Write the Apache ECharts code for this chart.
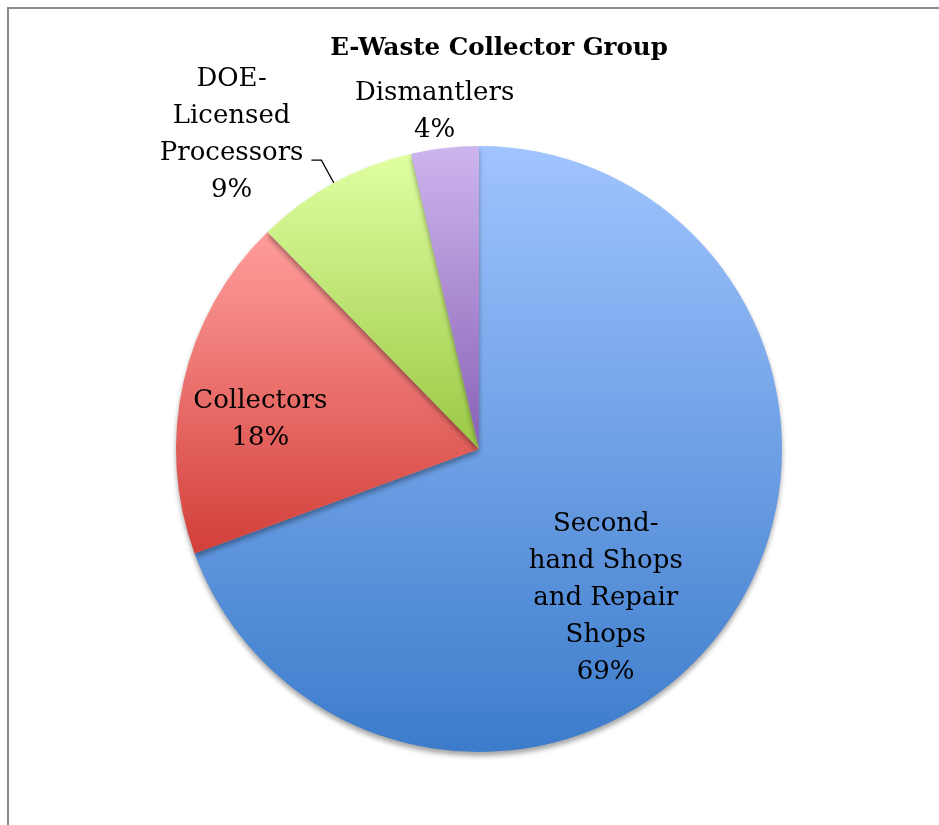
<!DOCTYPE html>
<html>
<head>
<meta charset="utf-8">
<script src="https://cdn.jsdelivr.net/npm/echarts@6/dist/echarts.min.js"></script>
<style>
html,body{margin:0;padding:0;background:#fff;}
#chart{width:939px;height:825px;}
</style>
</head>
<body>
<div id="chart"></div>
<script>
const chartTitle = 'E-Waste Collector Group';
const categories = ['Second-hand Shops and Repair Shops', 'Collectors', 'DOE-Licensed Processors', 'Dismantlers'];
const labelTexts = ['Second-\nhand Shops\nand Repair\nShops', 'Collectors', 'DOE-\nLicensed\nProcessors', 'Dismantlers'];
const values = [69.4, 18.3, 8.7, 3.6];
const topColors = ['#A0C4FF', '#FF9E9B', '#E0FFA2', '#CDB5EE'];
const bottomColors = ['#3C7CCB', '#D33F3A', '#9AC843', '#8961B5'];
const labelPlacement = ['inside', 'inside', 'outside', 'outside'];
const labelShift = [[0, 61], [-68, 5], [-3, -25], [75, -31]];

const chart = echarts.init(document.getElementById('chart'));
const fontFamily = '"DejaVu Serif", "Liberation Serif", serif';

const data = values.map((v, i) => ({
  name: categories[i],
  value: v,
  itemStyle: {
    color: new echarts.graphic.LinearGradient(0, 0, 0, 1, [
      { offset: 0, color: topColors[i] },
      { offset: 1, color: bottomColors[i] }
    ])
  },
  label: { position: labelPlacement[i] },
  labelLine: i === 2 ? { show: true, length: 26, length2: 10 } : { show: false, length: 5, length2: 0 }
}));

chart.setOption({
  animation: false,
  backgroundColor: '#ffffff',
  title: {
    text: chartTitle,
    left: 494,
    top: 31,
    textAlign: 'center',
    textStyle: { fontFamily: fontFamily, fontWeight: 'bold', fontSize: 24.5, color: '#000' }
  },
  graphic: [{
    type: 'rect',
    shape: { x: 8, y: 8, width: 1000, height: 900 },
    style: { fill: 'none', stroke: '#8a8a8a', lineWidth: 2 },
    silent: true
  }],
  series: [{
    type: 'pie',
    center: [479, 449],
    radius: 303,
    startAngle: 90,
    clockwise: true,
    avoidLabelOverlap: false,
    itemStyle: {
      borderWidth: 0,
      shadowBlur: 5,
      shadowOffsetY: 4,
      shadowColor: 'rgba(0,0,0,0.35)'
    },
    label: {
      show: true,
      color: '#000',
      fontFamily: fontFamily,
      fontSize: 26,
      lineHeight: 37,
      formatter: p => labelTexts[p.dataIndex] + '\n' + Math.round(p.percent) + '%'
    },
    labelLine: {
      lineStyle: { color: '#000', width: 1.3 },
      smooth: false
    },
    labelLayout: function (params) {
      const r = params.labelRect;
      const s = labelShift[params.dataIndex];
      const out = {
        x: r.x + r.width / 2 + s[0],
        y: r.y + r.height / 2 + s[1],
        align: 'center',
        verticalAlign: 'middle'
      };
      if (params.labelLinePoints) out.labelLinePoints = params.labelLinePoints;
      return out;
    },
    data: data
  }]
});
</script>
</body>
</html>
